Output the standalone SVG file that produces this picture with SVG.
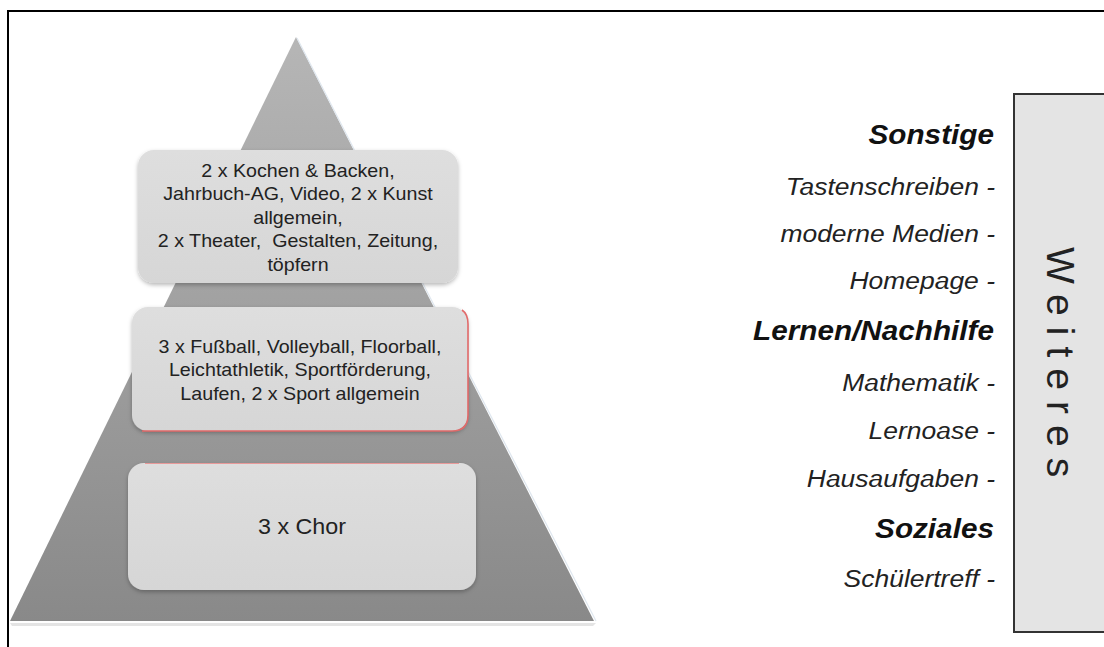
<svg xmlns="http://www.w3.org/2000/svg" width="1104" height="647" viewBox="0 0 1104 647">
  <defs>
    <linearGradient id="pyr" x1="0" y1="0" x2="0" y2="1">
      <stop offset="0" stop-color="#b6b6b6"/>
      <stop offset="1" stop-color="#898989"/>
    </linearGradient>
    <linearGradient id="box" x1="0" y1="0" x2="0" y2="1">
      <stop offset="0" stop-color="#dedede"/>
      <stop offset="1" stop-color="#d6d6d6"/>
    </linearGradient>
    <filter id="sh" x="-10%" y="-10%" width="120%" height="130%">
      <feDropShadow dx="0" dy="2" stdDeviation="2" flood-color="#000" flood-opacity="0.28"/>
    </filter>
  </defs>
  <style>
    .box { fill: url(#box); filter: url(#sh); }
    .bt { font-family: "Liberation Sans", Arial, sans-serif; font-size: 18.2px; fill: #222; text-anchor: middle; }
    .lab { font-family: "Liberation Sans", Arial, sans-serif; font-size: 24.5px; font-style: italic; fill: #222; text-anchor: end; }
    .hd { font-family: "Liberation Sans", Arial, sans-serif; font-size: 27.5px; font-style: italic; font-weight: bold; fill: #111; text-anchor: end; }
    .frame { stroke: #000; stroke-width: 2; fill: none; }
  </style>

  <rect x="0" y="0" width="1104" height="647" fill="#fff"/>

  <g id="frame">
    <path class="frame" d="M8,647 V11 H1104"/>
  </g>

  <g id="pyramid">
    <polygon points="10,623 596,623 593,626 12,626" fill="#d8d8d8" opacity="0.7"/>
    <polygon points="296,37 594,621 10,621" fill="url(#pyr)"/>
    <line x1="297" y1="38" x2="596" y2="621" stroke="#dfe7ef" stroke-width="1.2"/>
  </g>

  <g id="level-top">
    <rect class="box" x="138" y="150" width="320" height="133" rx="16"/>
    <g transform="matrix(1.08,0,0,1,-23.84,0)">
      <text class="bt" x="298" y="177">2 x Kochen &amp; Backen,</text>
      <text class="bt" x="298" y="200.5">Jahrbuch-AG, Video, 2 x Kunst</text>
      <text class="bt" x="298" y="224">allgemein,</text>
      <text class="bt" x="298" y="247.5" xml:space="preserve">2 x Theater,  Gestalten, Zeitung,</text>
      <text class="bt" x="298" y="271">töpfern</text>
    </g>
  </g>

  <g id="level-middle">
    <rect class="box" x="132" y="307" width="336" height="124" rx="16"/>
    <path d="M462,310 Q468,314 468,324 V415 Q468,431 452,431 H142" fill="none" stroke="#e26a6a" stroke-width="1.6"/>
    <g transform="matrix(1.08,0,0,1,-24,0)">
      <text class="bt" x="300" y="353">3 x Fußball, Volleyball, Floorball,</text>
      <text class="bt" x="300" y="376.5">Leichtathletik, Sportförderung,</text>
      <text class="bt" x="300" y="400">Laufen, 2 x Sport allgemein</text>
    </g>
  </g>

  <g id="level-bottom">
    <rect class="box" x="128" y="463" width="348" height="127" rx="16"/>
    <line x1="145" y1="463.5" x2="459" y2="463.5" stroke="#e89a9a" stroke-width="1"/>
    <g transform="matrix(1.06,0,0,1,-18.12,0)">
      <text class="bt" x="302" y="534" style="font-size:22px">3 x Chor</text>
    </g>
  </g>

  <g id="list" transform="matrix(1.08,0,0,1,-79.6,0)">
    <text class="hd" x="994" y="144">Sonstige</text>
    <text class="lab" x="995" y="195">Tastenschreiben -</text>
    <text class="lab" x="995" y="242">moderne Medien -</text>
    <text class="lab" x="995" y="289">Homepage -</text>
    <text class="hd" x="994" y="340">Lernen/Nachhilfe</text>
    <text class="lab" x="995" y="391">Mathematik -</text>
    <text class="lab" x="995" y="439">Lernoase -</text>
    <text class="lab" x="995" y="487">Hausaufgaben -</text>
    <text class="hd" x="994" y="538">Soziales</text>
    <text class="lab" x="995" y="587">Schülertreff -</text>
  </g>

  <g id="weiteres">
    <rect x="1014" y="94" width="100" height="538" fill="#e4e4e4" stroke="#333" stroke-width="2"/>
    <text transform="translate(1047,247) rotate(90)" x="0" y="0" font-family="Liberation Sans, Arial, sans-serif" font-size="39" letter-spacing="11" fill="#222">Weiteres</text>
  </g>
</svg>
